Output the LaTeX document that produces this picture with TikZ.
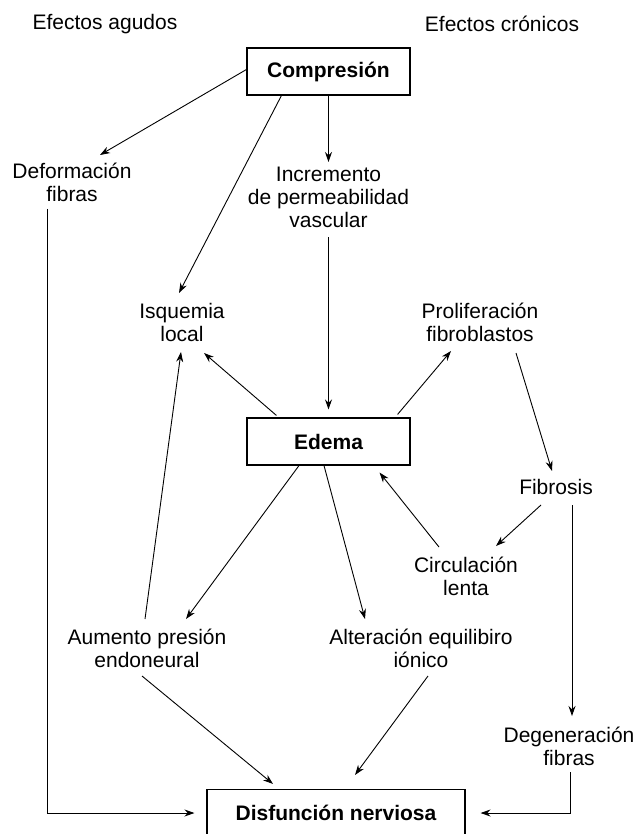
\documentclass[tikz,border=0pt]{standalone}
\usepackage{fontspec}
\setmainfont{Liberation Sans}
\usetikzlibrary{arrows.meta}
\begin{document}
\begin{tikzpicture}[x=1pt,y=-1pt,
  every node/.style={font=\fontsize{21}{23}\selectfont},
  box/.style={draw,line width=1.1pt,minimum width=163pt,minimum height=47pt,inner sep=0pt,font=\fontsize{21}{23}\selectfont\bfseries},
  lbl/.style={align=center,inner sep=0pt},
  arr/.style={line width=0.9pt,-{Stealth[length=10pt,width=7pt]}}]
\useasboundingbox (0,0) rectangle (638,834);
\node[lbl] (agudos) at (105,24) {Efectos agudos};
\node[lbl] (cronicos) at (502,24) {Efectos crónicos};
\node[box] (comp) at (328.5,71.5) {Compresión};
\node[lbl] (def) at (72,182) {Deformación\\fibras};
\node[lbl] (inc) at (328.5,197) {Incremento\\de permeabilidad\\vascular};
\node[lbl] (isq) at (182,322) {Isquemia\\local};
\node[lbl] (prol) at (480,322) {Proliferación\\fibroblastos};
\node[box] (edema) at (328.5,441.5) {Edema};
\node[lbl] (fib) at (556,487) {Fibrosis};
\node[lbl] (circ) at (466,576) {Circulación\\lenta};
\node[lbl] (aum) at (147,648) {Aumento presión\\endoneural};
\node[lbl] (alt) at (421,648) {Alteración equilibiro\\iónico};
\node[lbl] (deg) at (569,746) {Degeneración\\fibras};
\node[box,minimum width=258pt] (dis) at (336,813) {Disfunción nerviosa};
% compresion
\draw[arr] ([yshift=2pt]comp.west) -- ([shift={(28,-27)}]def.center);
\draw[arr] (comp.south) -- ([shift={(0,-35)}]inc.center);
\draw[arr] ([xshift=35pt]comp.south west) -- ([shift={(-3,-29)}]isq.center);
% edema
\draw[arr] ([shift={(0,40)}]inc.center) -- ([yshift=8pt]edema.north);
\draw[arr] ([shift={(30,-2)}]edema.north west) -- ([shift={(22,31)}]isq.center);
\draw[arr] ([shift={(-13,-3)}]edema.north east) -- ([shift={(-29,29)}]prol.center);
\draw[arr] ([shift={(36,31)}]prol.center) -- ([shift={(-4,-16)}]fib.center);
\draw[arr] ([shift={(-15,18)}]fib.center) -- ([shift={(30,-30)}]circ.center);
\draw[arr] ([shift={(-27,-29)}]circ.center) -- ([shift={(-31,7)}]edema.south east);
\draw[arr] ([xshift=-29.5pt]edema.south) -- ([shift={(39,-29)}]aum.center);
\draw[arr] ([xshift=-4.5pt]edema.south) -- ([shift={(-56,-29)}]alt.center);
\draw[arr] ([shift={(-2,-29)}]aum.center) -- ([shift={(-1,30)}]isq.center);
% disfuncion
\draw[arr] ([shift={(-5,28)}]aum.center) -- ([shift={(-63,-5)}]dis.north);
\draw[arr] ([shift={(7,28)}]alt.center) -- ([shift={(19,-14)}]dis.north);
\draw[arr] ([shift={(-25,27)}]def.center) |- ([xshift=-12pt]dis.west);
\draw[arr] ([shift={(16,18)}]fib.center) -- ([shift={(3,-30)}]deg.center);
\draw[arr] ([shift={(1,26)}]deg.center) |- ([xshift=15pt]dis.east);
\end{tikzpicture}
\end{document}
